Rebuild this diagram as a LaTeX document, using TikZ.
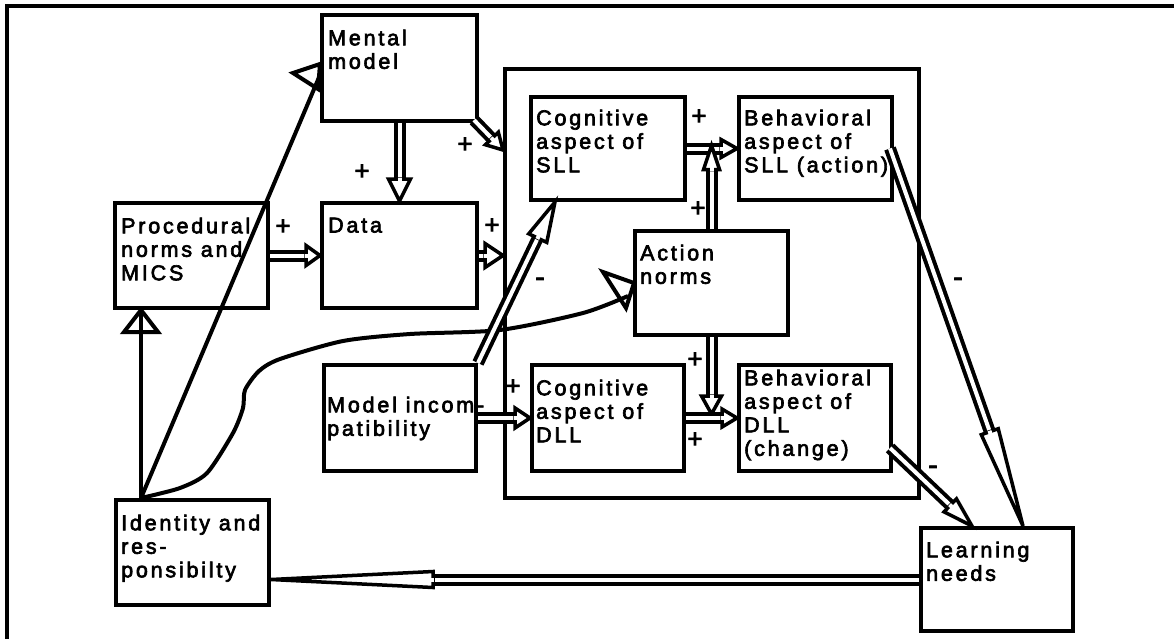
\documentclass[tikz,border=0pt]{standalone}
\usepackage{fontspec}
\setmainfont{Liberation Sans}[LetterSpace=13, FakeBold=3]
\usetikzlibrary{calc}

% double-shafted arrow with an open triangular head
% #1 start, #2 tip, #3 head length, #4 head half width (pt)
\newcommand\dblarrow[4]{%
  \draw[dbl, shorten >=#3pt] (#1) -- (#2);
  \draw[headst] (#2) -- ($(#2)!#3pt!(#1)!#4pt!90:(#1)$)
                     -- ($(#2)!#3pt!(#1)!#4pt!-90:(#1)$) -- cycle;
  \draw[white, line width=4pt] ($(#2)!#3pt!(#1)!-1pt!(#2)$) -- ($(#2)!#3pt!(#1)!7pt!(#2)$);
}

\begin{document}
\begin{tikzpicture}[x=1pt, y=-1pt,
  box/.style={draw, line width=4pt, minimum width=153pt, minimum height=105pt, inner sep=0pt},
  lbl/.style={anchor=north west, inner sep=0pt, align=left, font=\fontsize{21.5}{23.5}\selectfont},
  sgn/.style={inner sep=0pt, font=\fontsize{26}{26}\selectfont},
  neg/.style={inner sep=0pt, font=\fontsize{28}{28}\selectfont},
  dbl/.style={draw=black, double=white, line width=4pt, double distance=4pt},
  headst/.style={fill=white, draw=black, line width=3.5pt, line join=miter},
  sline/.style={draw=black, line width=4pt, line join=miter},
]
\useasboundingbox (0,0) rectangle (1174,638);

% outer frame (top and left edges)
\draw[line width=3.2pt] (1174,6) -- (7,6) -- (7,640);

% container of the four aspects and the action norms
\node[box, minimum width=414pt, minimum height=429pt] (cont) at (712,283.5) {};

% boxes
\node[box, minimum width=155pt, minimum height=106pt] (mm) at (399.5,68) {};
\node[box] (pnm) at (191.5,255.5) {};
\node[box, minimum width=155pt] (data) at (399.5,255.5) {};
\node[box, minimum width=154pt, minimum height=103pt] (csll) at (608,148.5) {};
\node[box, minimum height=103pt] (bsll) at (815.5,148.5) {};
\node[box, minimum height=104pt] (an) at (711.5,283) {};
\node[box, minimum width=152pt, minimum height=106pt] (mi) at (400,418) {};
\node[box, minimum width=152pt, minimum height=106pt] (cdll) at (608,418) {};
\node[box, minimum width=152pt, minimum height=106pt] (bdll) at (815,418) {};
\node[box] (ir) at (192.5,552.5) {};
\node[box, minimum width=152pt, minimum height=103pt] (ln) at (997,579.5) {};

% box texts
\node[lbl] (mmT)   at ([shift={(8,16.5)}]mm.north west)   {Mental\\model};
\node[lbl] (pnmT)  at ([shift={(8,16.5)}]pnm.north west)  {Procedural\\norms and\\MICS};
\node[lbl] (dataT) at ([shift={(8,16.5)}]data.north west) {Data};
\node[lbl] (csllT) at ([shift={(7,14.5)}]csll.north west) {Cognitive\\aspect of\\SLL};
\node[lbl] (bsllT) at ([shift={(7,14.5)}]bsll.north west) {Behavioral\\aspect of\\SLL (action)};
\node[lbl] (anT)   at ([shift={(7,15.5)}]an.north west)   {Action\\norms};
\node[lbl] (miT)   at ([shift={(5,33.5)}]mi.north west)   {Model incom-\\patibility};
\node[lbl] (cdllT) at ([shift={(6,16.5)}]cdll.north west) {Cognitive\\aspect of\\DLL};
\node[lbl] (bdllT) at ([shift={(7,6.5)}]bdll.north west)  {Behavioral\\aspect of\\DLL\\(change)};
\node[lbl] (irT)   at ([shift={(7,16.5)}]ir.north west)   {Identity and\\res-\\ponsibilty};
\node[lbl] (lnT)   at ([shift={(7,15.5)}]ln.north west)   {Learning\\needs};

% connector end points
\coordinate (irTop)  at ([shift={(27,0)}]ir.north west);
\coordinate (pnmIn)  at ([shift={(28,0)}]pnm.south west);
\coordinate (mmIn)   at ([shift={(0,62)}]mm.north west);
\coordinate (anIn)   at ([shift={(-5,13)}]an.west);
\coordinate (mmOut)  at ([shift={(-5,-3)}]mm.south east);
\coordinate (contA)  at ([shift={(0,83)}]cont.north west);
\coordinate (contB)  at (cont.west |- data.east);
\coordinate (csllIn) at ([shift={(26,0)}]csll.south west);
\coordinate (jUp)    at ([shift={(0,-3)}]an.north |- csll.east);
\coordinate (jDown)  at ([shift={(0,-4)}]an.south |- cdll.east);
\coordinate (bsllOut) at ([shift={(-4,0)}]bsll.east);
\coordinate (bdllOut) at ([shift={(-3,30)}]bdll.east);
\coordinate (lnA)    at ([shift={(26,0)}]ln.north);
\coordinate (lnB)    at ([shift={(-25,0)}]ln.north);
\coordinate (irIn)   at (ir.east |- ln.west);

% single-line influences from identity and responsibility
\draw[sline] (irTop) -- (pnmIn);
\draw[sline] (pnmIn) -- ++(17,22) -- ++(-34,0) -- cycle;
\draw[sline] (irTop) -- (mmIn);
\draw[sline] ([shift={(-27,-2)}]mmIn) -- ([shift={(0,-11)}]mmIn) -- ([shift={(-2,14)}]mmIn) -- cycle;
\draw[sline, line join=round] plot[smooth, tension=0.45] coordinates
  {(irTop) (180,488) (207,473) (233,433) (243,408) (245,390) (259,371) (280,359)
   (343,341) (410,334) (500,330) (583,313) (anIn)};
\draw[sline] ([shift={(-30,-11)}]an.west) -- ([shift={(1,0)}]an.west) -- ([shift={(-7,25)}]an.west) -- cycle;

% double-shafted influences
\dblarrow{mm.south}{data.north}{22}{11}
\dblarrow{mmOut}{contA}{16}{9}
\dblarrow{data.east}{contB}{18}{12}
\dblarrow{pnm.east}{data.west}{14}{10}
\dblarrow{mi.north east}{csllIn}{40}{10}
\dblarrow{mi.east}{cdll.west}{15}{10}
\dblarrow{csll.east}{bsll.west}{16}{9}
\dblarrow{an.north}{jUp}{24}{8}
\dblarrow{an.south}{jDown}{18}{10}
\dblarrow{cdll.east}{bdll.west}{15}{9}
\dblarrow{bsllOut}{lnA}{100}{9}
\dblarrow{bdllOut}{lnB}{30}{9}
\dblarrow{ln.west}{irIn}{162}{8}

% polarity signs
\node[sgn] (s1)  at (362,172) {+};
\node[sgn] (s2)  at (465,145) {+};
\node[sgn] (s3)  at (492,226) {+};
\node[sgn] (s4)  at (283,227) {+};
\node[sgn] (s5)  at (699,117) {+};
\node[sgn] (s6)  at (698,209) {+};
\node[sgn] (s7)  at (695,360) {+};
\node[sgn] (s8)  at (695,440) {+};
\node[sgn] (s9)  at (513,387) {+};
\node[neg] (s10) at (540,282) {-};
\node[neg] (s11) at (958,282) {-};
\node[neg] (s12) at (933,470) {-};
\end{tikzpicture}
\end{document}
